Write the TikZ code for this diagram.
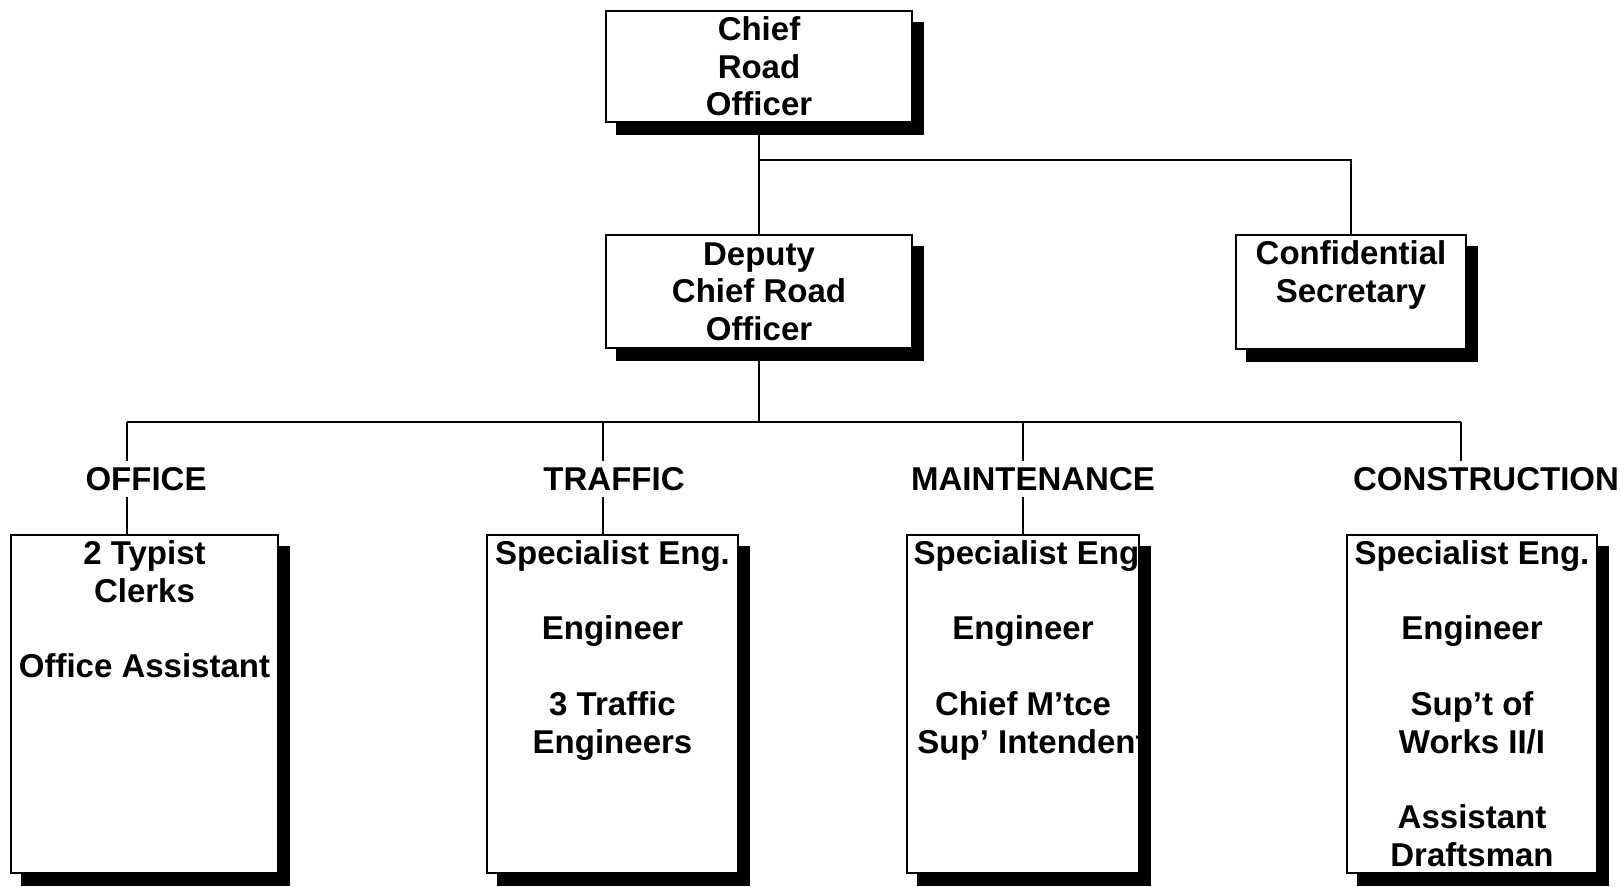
\documentclass[tikz,border=0pt]{standalone}
\usepackage{fontspec}
\setmainfont{Liberation Sans}
\begin{document}
\begin{tikzpicture}[x=1pt, y=-1pt,
  box/.style={draw=black, fill=white, line width=1.6pt, inner sep=0pt},
  boxtext/.style={anchor=north, inner sep=0pt, align=center,
    font=\fontsize{33}{37.8}\selectfont\bfseries},
  dept/.style={inner xsep=0pt, inner ysep=6pt,
    font=\fontsize{33}{37.8}\selectfont\bfseries},
  link/.style={line width=1.8pt}]

% L-shaped solid shadow along the right and bottom sides of a box,
% painted after the box text so that overflowing text is covered
\newcommand\boxshadow[1]{%
  \fill[black] ([yshift=-12pt]#1.north east)
    -- ([xshift=11pt,yshift=-12pt]#1.north east)
    -- ([xshift=11pt,yshift=-12pt]#1.south east)
    -- ([xshift=11pt,yshift=-12pt]#1.south west)
    -- ([xshift=11pt]#1.south west)
    -- (#1.south east) -- cycle;}

\fill[white] (0,0) rectangle (1621,886);
\useasboundingbox (0,0) rectangle (1621,886);

% --- top level ---
\node[box, minimum width=306pt, minimum height=111pt] (cro) at (759,66.5) {};
\node[boxtext] (cro-t) at ([yshift=-6pt]cro.north) {Chief\\Road\\Officer};

\node[box, minimum width=306pt, minimum height=113pt] (dcro) at (759,291.5) {};
\node[boxtext] (dcro-t) at ([yshift=-8pt]dcro.north) {Deputy\\Chief Road\\Officer};

\node[box, minimum width=230pt, minimum height=114pt] (sec) at (1351,292) {};
\node[boxtext] (sec-t) at ([yshift=-6pt]sec.north) {Confidential\\Secretary};

% --- sections ---
\node[box, minimum width=267pt, minimum height=338pt] (office) at (144.5,704) {};
\node[boxtext] (office-t) at ([yshift=-6pt]office.north)
  {2 Typist\\Clerks\\[37.8pt]Office Assistant};

\node[box, minimum width=251pt, minimum height=338pt] (traffic) at (612.5,704) {};
\node[boxtext] (traffic-t) at ([yshift=-6pt]traffic.north)
  {Specialist Eng.\\[37.8pt]Engineer\\[37.8pt]3 Traffic\\Engineers};

\node[box, minimum width=232pt, minimum height=338pt] (maint) at (1023,704) {};
\node[boxtext] (maint-t) at ([yshift=-6pt]maint.north)
  {\hspace*{16pt}Specialist Eng.\\[37.8pt]Engineer\\[37.8pt]Chief M’tce\\\hspace*{18pt}Sup’ Intendent};

\node[box, minimum width=250pt, minimum height=338pt] (constr) at (1472,704) {};
\node[boxtext] (constr-t) at ([yshift=-6pt]constr.north)
  {Specialist Eng.\\[37.8pt]Engineer\\[37.8pt]Sup’t of\\Works II/I\\[37.8pt]Assistant\\Draftsman};

% --- shadows ---
\boxshadow{cro}
\boxshadow{dcro}
\boxshadow{sec}
\boxshadow{office}
\boxshadow{traffic}
\boxshadow{maint}
\boxshadow{constr}

% --- section headings ---
\node[dept] (l-office) at (146,479) {OFFICE};
\node[dept] (l-traffic) at (614,479) {TRAFFIC};
\node[dept] (l-maint) at (1033,479) {MAINTENANCE};
\node[dept] (l-constr) at (1486,479) {CONSTRUCTION};

% --- junction points ---
\coordinate (split) at (759,160);
\coordinate (busL) at (127,422);
\coordinate (busT) at (603,422);
\coordinate (busM) at (1023,422);
\coordinate (busR) at (1461,422);

% --- connectors ---
\draw[link] (cro.south) -- (dcro.north);
\draw[link] (split) -| (sec.north);
\draw[link] (dcro.south) -- (dcro.south |- busL);
\draw[link] (busL) -- (busR);

\draw[link] (busL) -- (busL |- l-office.north);
\draw[link] (busL |- l-office.south) -- (busL |- office.north);
\draw[link] (busT) -- (busT |- l-traffic.north);
\draw[link] (busT |- l-traffic.south) -- (busT |- traffic.north);
\draw[link] (busM) -- (busM |- l-maint.north);
\draw[link] (busM |- l-maint.south) -- (busM |- maint.north);
\draw[link] (busR) -- (busR |- l-constr.north);
\end{tikzpicture}
\end{document}
